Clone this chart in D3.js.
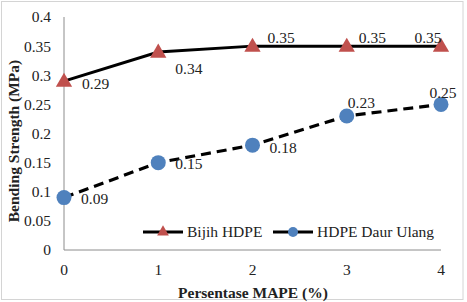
<!DOCTYPE html>
<html><head><meta charset="utf-8">
<script src="https://cdn.jsdelivr.net/npm/d3@7"></script>
<style>body{margin:0;background:#fff}</style>
</head><body>
<script>
const categories = [0, 1, 2, 3, 4];
const bijihHDPE = [0.29, 0.34, 0.35, 0.35, 0.35];
const hdpeDaurUlang = [0.09, 0.15, 0.18, 0.23, 0.25];
const yTicks = [0, 0.05, 0.1, 0.15, 0.2, 0.25, 0.3, 0.35, 0.4];
const seriesNames = ["Bijih HDPE", "HDPE Daur Ulang"];

const W = 467, H = 302;
const svg = d3.select("body").append("svg").attr("width", W).attr("height", H);
const font = "Liberation Serif, Cambria, serif";
const fs = 15.5;

svg.append("rect").attr("x", 1.5).attr("y", 1.5).attr("width", 461.5).attr("height", 298)
  .attr("fill", "none").attr("stroke", "#d4d4d4").attr("stroke-width", 1);

const x = d3.scaleLinear().domain([0, 4]).range([64, 441]);
const y = d3.scaleLinear().domain([0, 0.4]).range([250, 17]);

// axes
svg.append("line").attr("x1", 64).attr("x2", 64).attr("y1", y(0.4)).attr("y2", y(0))
  .attr("stroke", "#8c8c8c").attr("stroke-width", 1);
svg.append("line").attr("x1", 64).attr("x2", 441).attr("y1", y(0)).attr("y2", y(0))
  .attr("stroke", "#8c8c8c").attr("stroke-width", 1);

svg.selectAll(".yt").data(yTicks).enter().append("text")
  .attr("x", 51).attr("y", d => y(d)).attr("dy", "0.35em")
  .attr("text-anchor", "end").attr("font-family", font).attr("font-size", fs)
  .attr("fill", "#222").text(d => d === 0 ? "0" : String(d));
svg.selectAll(".xt").data(categories).enter().append("text")
  .attr("x", d => x(d)).attr("y", 275)
  .attr("text-anchor", "middle").attr("font-family", font).attr("font-size", fs)
  .attr("fill", "#222").text(d => d);

svg.append("text").attr("x", 253).attr("y", 298).attr("text-anchor", "middle")
  .attr("font-family", font).attr("font-size", 15.5).attr("font-weight", "bold")
  .attr("fill", "#222").text("Persentase MAPE (%)");
svg.append("text").attr("transform", "translate(19,141) rotate(-90)")
  .attr("text-anchor", "middle").attr("font-family", font).attr("font-size", 15.5)
  .attr("font-weight", "bold").attr("fill", "#222").text("Bending Strength (MPa)");

const line = d3.line().x((d, i) => x(categories[i])).y(d => y(d)).curve(d3.curveLinear);

svg.append("path").attr("d", line(bijihHDPE)).attr("fill", "none")
  .attr("stroke", "#000").attr("stroke-width", 3);
svg.append("path").attr("d", line(hdpeDaurUlang)).attr("fill", "none")
  .attr("stroke", "#000").attr("stroke-width", 3.2).attr("stroke-dasharray", "10,6");

const tri = d3.symbol().type(d3.symbolTriangle).size(115);
svg.selectAll(".tri").data(bijihHDPE).enter().append("path")
  .attr("d", tri).attr("transform", (d, i) => `translate(${x(categories[i])},${y(d) + 1})`)
  .attr("fill", "#C0504D");
svg.selectAll(".cir").data(hdpeDaurUlang).enter().append("circle")
  .attr("cx", (d, i) => x(categories[i])).attr("cy", d => y(d)).attr("r", 7.5)
  .attr("fill", "#4F81BD");

// data labels
const bOff = [[18, 2], [17, 17], [15, -9], [12, -9], [-13, -9]];
const bAnchor = ["start", "start", "start", "start", "middle"];
svg.selectAll(".bl").data(bijihHDPE).enter().append("text")
  .attr("x", (d, i) => x(categories[i]) + bOff[i][0]).attr("y", (d, i) => y(d) + bOff[i][1])
  .attr("dy", "0.35em").attr("text-anchor", (d, i) => bAnchor[i])
  .attr("font-family", font).attr("font-size", fs).attr("fill", "#222").text(d => d.toFixed(2));
const hOff = [[17, 1], [17, 1], [17, 2], [1, -13], [2, -12]];
const hAnchor = ["start", "start", "start", "start", "middle"];
svg.selectAll(".hl").data(hdpeDaurUlang).enter().append("text")
  .attr("x", (d, i) => x(categories[i]) + hOff[i][0]).attr("y", (d, i) => y(d) + hOff[i][1])
  .attr("dy", "0.35em").attr("text-anchor", (d, i) => hAnchor[i])
  .attr("font-family", font).attr("font-size", fs).attr("fill", "#222").text(d => d.toFixed(2));

// legend
const lg = [{x0: 143, name: seriesNames[0], t: "tri"},
            {x0: 273, name: seriesNames[1], t: "cir"}];
lg.forEach(l => {
  svg.append("line").attr("x1", l.x0).attr("x2", l.x0 + 40).attr("y1", 232).attr("y2", 232)
    .attr("stroke", "#000").attr("stroke-width", 3);
  if (l.t === "tri") {
    svg.append("path").attr("d", d3.symbol().type(d3.symbolTriangle).size(60))
      .attr("transform", `translate(${l.x0 + 20},232)`).attr("fill", "#C0504D");
  } else {
    svg.append("circle").attr("cx", l.x0 + 20).attr("cy", 232).attr("r", 5).attr("fill", "#4F81BD");
  }
  svg.append("text").attr("x", l.x0 + 44).attr("y", 232).attr("dy", "0.35em")
    .attr("font-family", font).attr("font-size", fs).attr("fill", "#222").text(l.name);
});
</script>
</body></html>
